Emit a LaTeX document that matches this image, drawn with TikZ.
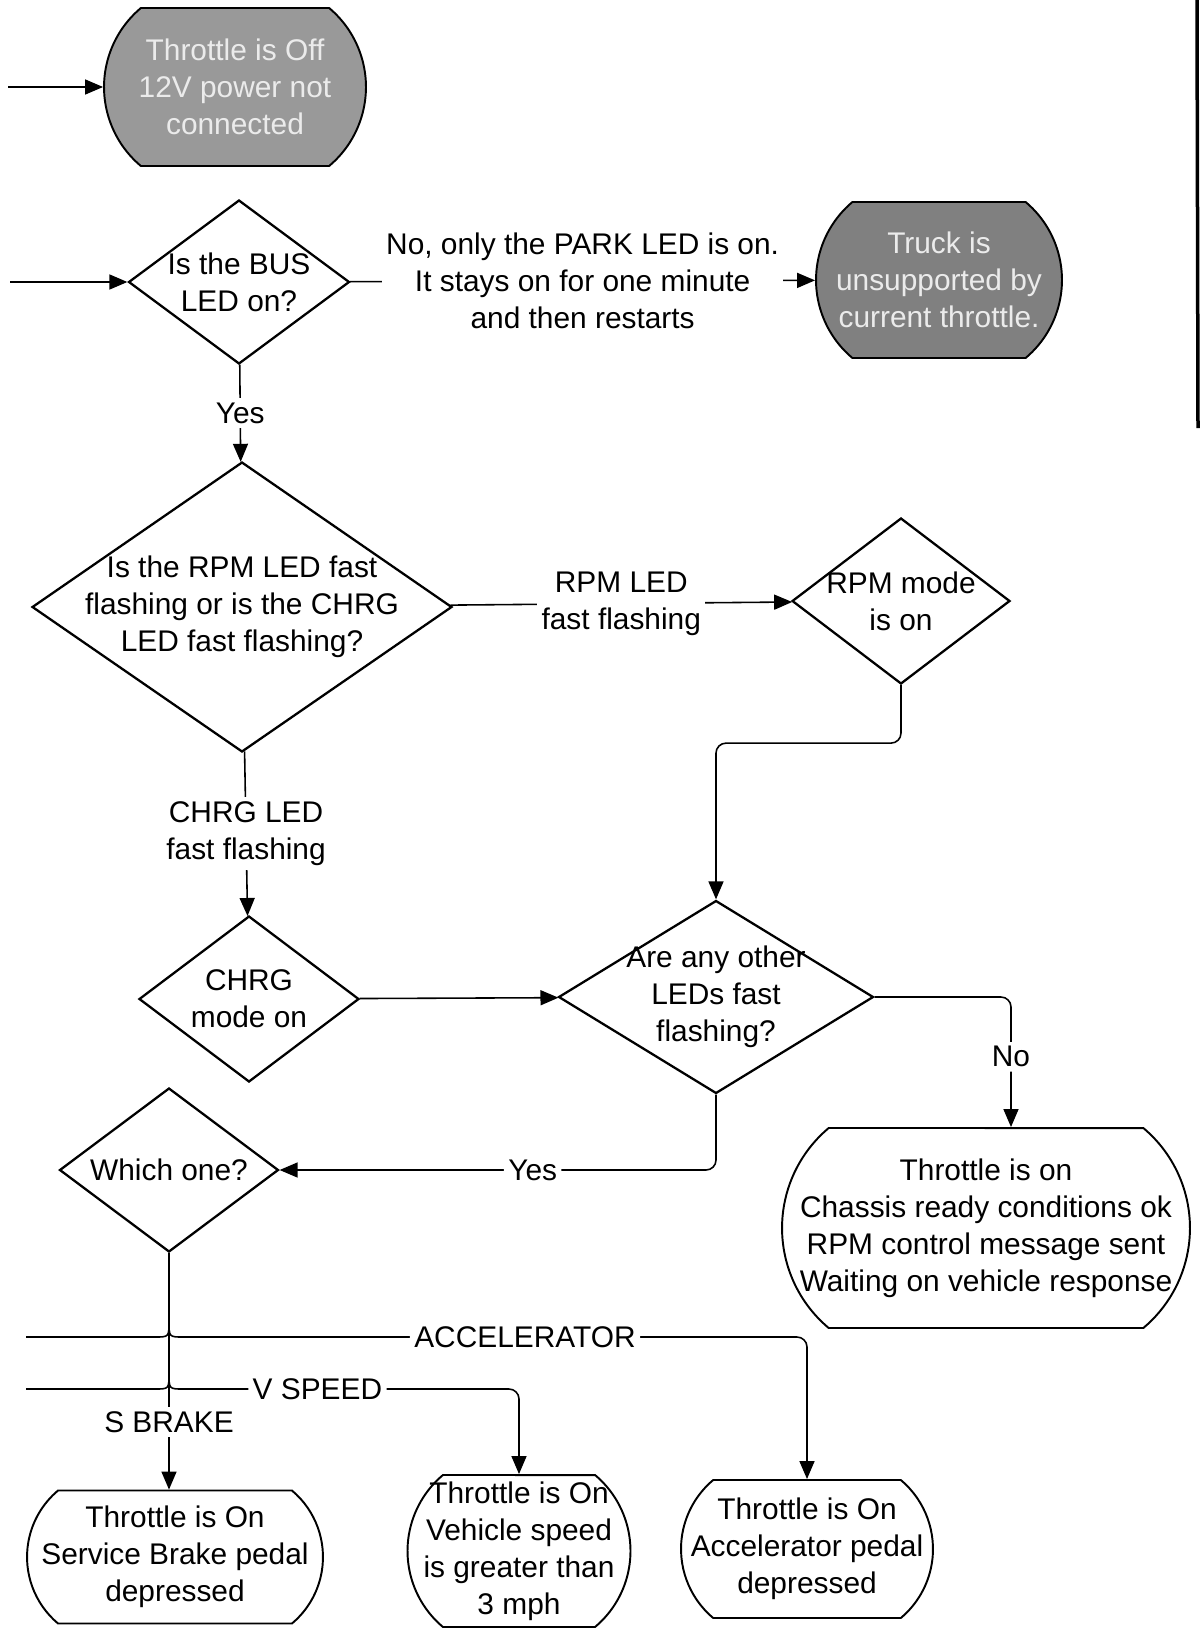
\documentclass[tikz,border=0pt]{standalone}
\usepackage{fontspec}
\setmainfont{Liberation Sans}
\usetikzlibrary{shapes.geometric,shapes.misc,arrows.meta}
\definecolor{offgray}{gray}{0.6}
\definecolor{truckgray}{gray}{0.5}
\definecolor{paletext}{gray}{0.92}
\begin{document}
\begin{tikzpicture}[x=0.02cm, y=-0.02cm,
        font=\fontsize{17}{21}\selectfont,
        decision/.style={diamond, draw, line width=1.3pt, inner sep=0pt},
        term/.style={rounded rectangle, rounded rectangle arc length=100, draw, line width=1.1pt, inner sep=0pt},
        flow/.style={line width=0.9pt, -{Triangle[length=0.36cm, width=0.3cm]}},
        lbl/.style={fill=white, inner sep=2.5pt, align=center}]
    \useasboundingbox (0,0) rectangle (1200,1629);

    % Start states
    \node[term, fill=offgray, minimum width=5.24cm, minimum height=3.16cm,
        label={[align=center, text=paletext]center:{Throttle is Off\\12V power not\\connected}}] (off) at (235,87) {};
    \node[decision, minimum width=4.42cm, minimum height=3.28cm,
        label={[align=center]center:{Is the BUS\\LED on?}}] (bus) at (239,282) {};
    \node[term, fill=truckgray, minimum width=4.92cm, minimum height=3.12cm,
        label={[align=center, text=paletext]center:{Truck is\\unsupported by\\current throttle.}}] (truck) at (939,280) {};

    % Fast flashing checks
    \node[decision, minimum width=8.4cm, minimum height=5.8cm,
        label={[align=center]center:{Is the RPM LED fast\\flashing or is the CHRG\\LED fast flashing?}}] (rpmq) at (242,607) {};
    \node[decision, minimum width=4.36cm, minimum height=3.32cm,
        label={[align=center]center:{RPM mode\\is on}}] (rpm) at (901,601) {};
    \node[decision, minimum width=4.4cm, minimum height=3.32cm,
        label={[align=center]center:{CHRG\\mode on}}] (chrg) at (249,999) {};
    \node[decision, minimum width=6.3cm, minimum height=3.86cm,
        label={[align=center]center:{Are any other\\LEDs fast\\flashing?}}] (any) at (716,997) {};
    \node[decision, minimum width=4.38cm, minimum height=3.28cm,
        label={[align=center]center:{Which one?}}] (which) at (169,1170) {};

    % Throttle on states
    \node[term, minimum width=8.16cm, minimum height=4cm,
        label={[align=center]center:{Throttle is on\\Chassis ready conditions ok\\RPM control message sent\\Waiting on vehicle response}}] (thon) at (986,1228) {};
    \node[term, minimum width=5.92cm, minimum height=2.66cm,
        label={[align=center]center:{Throttle is On\\Service Brake pedal\\depressed}}] (sbrake) at (175,1557) {};
    \node[term, minimum width=4.46cm, minimum height=3.04cm,
        label={[align=center]center:{Throttle is On\\Vehicle speed\\is greater than\\3 mph}}] (vspeed) at (519,1551) {};
    \node[term, minimum width=5.04cm, minimum height=2.76cm,
        label={[align=center]center:{Throttle is On\\Accelerator pedal\\depressed}}] (acc) at (807,1549) {};

    % Incoming lines from the left edge
    \coordinate (offin) at (8,87);
    \coordinate (busin) at (10,282);
    \coordinate (accin) at (26,1337);
    \coordinate (vin) at (26,1389);
    \draw[flow] (offin) -- (off);
    \draw[flow] (busin) -- (bus);

    % Connectors
    \draw[flow] (bus) -- node[lbl]{No, only the PARK LED is on.\\It stays on for one minute\\and then restarts} (truck);
    \draw[flow] (bus) -- node[lbl]{Yes} (rpmq);
    \draw[flow] (rpmq) -- node[lbl]{RPM LED\\fast flashing} (rpm);
    \draw[flow] (rpmq) -- node[lbl]{CHRG LED\\fast flashing} (chrg);
    \draw[flow, rounded corners=0.2cm] (rpm.south) -- ++(0,58) -| (any.north);
    \draw[flow] (chrg) -- (any);
    \draw[flow, rounded corners=0.2cm] (any.east) -| node[lbl, pos=0.73]{No} ([xshift=0.5cm]thon.north);
    \draw[flow, rounded corners=0.2cm] (any.south) |- node[lbl, pos=0.71]{Yes} (which.east);
    \draw[flow] (which.south) -- node[lbl, pos=0.715]{S BRAKE} (which.south |- sbrake.north);

    % Lines hopping over the S BRAKE line
    \draw[flow] (accin) -- (155,1337) .. controls (169,1337) .. (169,1321)
        .. controls (169,1337) .. (183,1337) [rounded corners=0.2cm] -| node[lbl, pos=0.274]{ACCELERATOR} (acc.north);
    \draw[flow] (vin) -- (155,1389) .. controls (169,1389) .. (169,1373)
        .. controls (169,1389) .. (183,1389) [rounded corners=0.2cm] -| node[lbl, pos=0.2]{V SPEED} (vspeed.north);

    % Edge of the scanned page
    \draw[line width=0.07cm] (1197,0) -- (1198,428);
\end{tikzpicture}
\end{document}
